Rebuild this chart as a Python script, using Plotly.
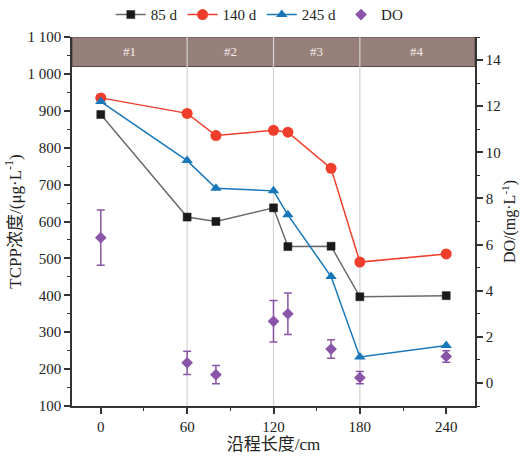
import plotly.graph_objects as go

# Sampling positions along the flow path (cm)
dist = [0, 60, 80, 120, 130, 160, 180, 240]

# TCPP concentration (ug/L) at each operating day
tcpp_85d = [890, 612, 600, 637, 532, 533, 396, 399]
tcpp_140d = [935, 893, 833, 847, 842, 744, 490, 512]
tcpp_245d = [925, 765, 690, 683, 618, 451, 233, 264]

# Dissolved oxygen (mg/L) with standard deviation
do_mean = [6.3, 0.87, 0.36, 2.67, 3.0, 1.47, 0.23, 1.15]
do_err = [1.2, 0.5, 0.4, 0.9, 0.9, 0.4, 0.27, 0.25]

# Zones along the column
zone_names = ["#1", "#2", "#3", "#4"]
zone_edges = [-20, 60, 120, 180, 260]

left_ticks = [100, 200, 300, 400, 500, 600, 700, 800, 900, 1000, 1100]
left_text = ["100", "200", "300", "400", "500", "600", "700", "800", "900", "1 000", "1 100"]
right_ticks = [0, 2, 4, 6, 8, 10, 12, 14]
x_ticks = [0, 60, 120, 180, 240]

FONT = "Liberation Serif, Noto Sans CJK SC, serif"
AXIS = "#333333"

fig = go.Figure()

fig.add_trace(go.Scatter(
    x=dist, y=tcpp_85d, name="85 d", mode="lines+markers",
    line=dict(color="#6b6b6b", width=1.5),
    marker=dict(symbol="square", size=8, color="#1a1a1a", line=dict(color="#1a1a1a", width=0.5)),
))
fig.add_trace(go.Scatter(
    x=dist, y=tcpp_140d, name="140 d", mode="lines+markers",
    line=dict(color="#f03e2c", width=1.5),
    marker=dict(symbol="circle", size=11, color="#f03e2c"),
))
fig.add_trace(go.Scatter(
    x=dist, y=tcpp_245d, name="245 d", mode="lines+markers",
    line=dict(color="#1777b8", width=1.5),
    marker=dict(symbol="triangle-up", size=10, color="#1777b8"),
))
fig.add_trace(go.Scatter(
    x=dist, y=do_mean, name="DO", mode="markers", yaxis="y2",
    marker=dict(symbol="diamond", size=9, color="#8a55a8"),
    error_y=dict(type="data", array=do_err, visible=True, color="#8a55a8", thickness=1.5, width=4),
))

shapes = []
# zone header band
shapes.append(dict(type="rect", xref="paper", yref="y", x0=0, x1=1, y0=1020, y1=1100,
                   fillcolor="#98807a", line=dict(color="#5a4540", width=1), layer="below"))
# zone dividers
for edge in zone_edges[1:-1]:
    shapes.append(dict(type="line", xref="x", yref="y", x0=edge, x1=edge, y0=100, y1=1100,
                       line=dict(color="#d2d2d2", width=1.2), layer="below"))

annotations = []
for i, name in enumerate(zone_names):
    cx = (zone_edges[i] + zone_edges[i + 1]) / 2
    annotations.append(dict(x=cx, y=1060, xref="x", yref="y", text=name, showarrow=False,
                            font=dict(family=FONT, size=13, color="#f2ecea")))

fig.update_layout(
    width=523, height=461,
    margin=dict(l=72, r=48, t=37, b=55, autoexpand=False),
    paper_bgcolor="white", plot_bgcolor="white",
    font=dict(family=FONT, size=15, color="#222222"),
    shapes=shapes, annotations=annotations,
    showlegend=True,
    legend=dict(orientation="h", x=0.466, xanchor="center", y=1.06, yanchor="middle",
                font=dict(family=FONT, size=15, color="#222222"),
                itemwidth=30, tracegroupgap=0, bgcolor="rgba(0,0,0,0)"),
    xaxis=dict(
        range=[-20, 260], tickvals=x_ticks, showgrid=False, zeroline=False,
        showline=True, linecolor=AXIS, linewidth=1.5, mirror=False,
        ticks="outside", ticklen=6, tickwidth=1.5, tickcolor=AXIS,
        minor=dict(dtick=30, tick0=0, ticks="outside", ticklen=3, tickwidth=1.2, tickcolor=AXIS),
        title=dict(text="沿程长度/cm", font=dict(family=FONT, size=17), standoff=4),
        tickfont=dict(family=FONT, size=15),
    ),
    yaxis=dict(
        range=[100, 1100], tickvals=left_ticks, ticktext=left_text, showgrid=False, zeroline=False,
        showline=True, linecolor=AXIS, linewidth=1.5,
        ticks="outside", ticklen=6, tickwidth=1.5, tickcolor=AXIS,
        minor=dict(dtick=50, tick0=0, ticks="outside", ticklen=3, tickwidth=1.2, tickcolor=AXIS),
        title=dict(text="TCPP浓度/(μg·L<sup>-1</sup>)", font=dict(family=FONT, size=17), standoff=2),
        tickfont=dict(family=FONT, size=15),
    ),
    yaxis2=dict(
        range=[-1, 15], tickvals=right_ticks, overlaying="y", side="right",
        showgrid=False, zeroline=False,
        showline=True, linecolor=AXIS, linewidth=1.5,
        ticks="outside", ticklen=6, tickwidth=1.5, tickcolor=AXIS,
        minor=dict(dtick=1, tick0=0, ticks="outside", ticklen=3, tickwidth=1.2, tickcolor=AXIS),
        title=dict(text="DO/(mg·L<sup>-1</sup>)", font=dict(family=FONT, size=16), standoff=4),
        tickfont=dict(family=FONT, size=15),
    ),
)

fig.write_html("out.html")
